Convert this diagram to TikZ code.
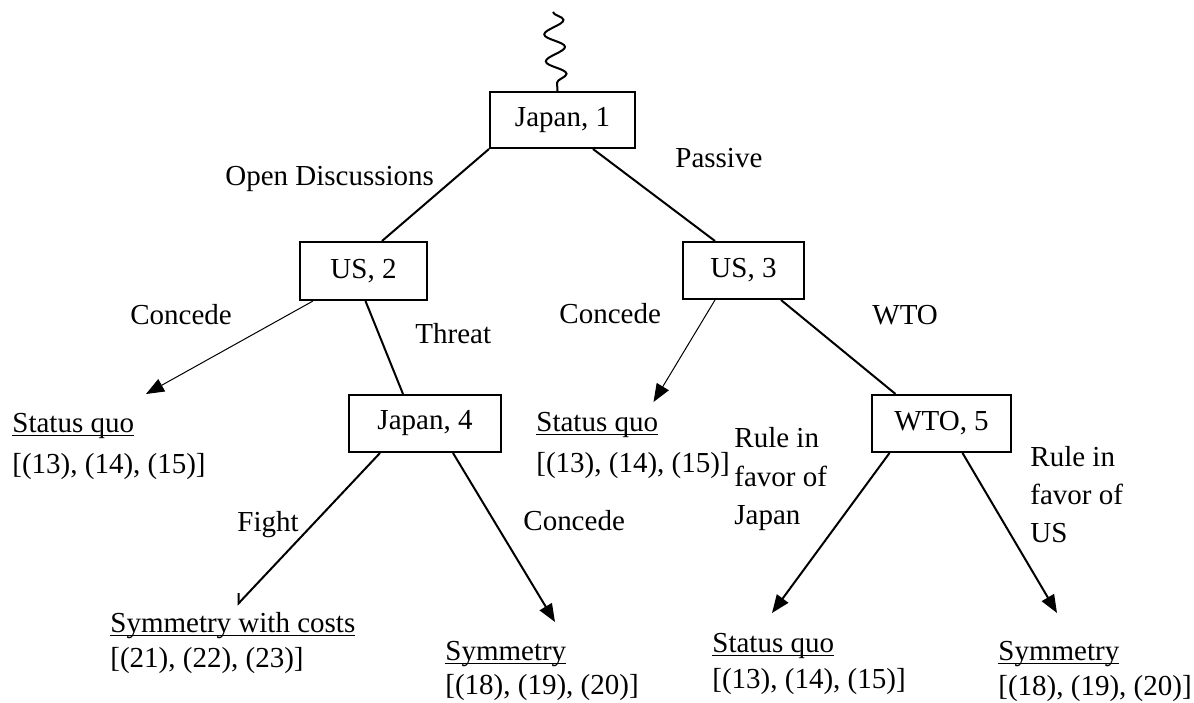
\documentclass[tikz,border=0pt]{standalone}
\usepackage{fontspec}
\setmainfont{Liberation Serif}
\usetikzlibrary{arrows.meta,decorations.pathmorphing}
\newcommand\undl[1]{\setbox0\hbox{#1}\rlap{\rule[-2.2pt]{\wd0}{0.7pt}}\box0}
\begin{document}
\begin{tikzpicture}[x=0.5pt,y=-0.5pt,
  every node/.style={font=\fontsize{14.5}{17}\selectfont, inner sep=0pt},
  player/.style={draw, line width=1pt, minimum height=28.5pt},
  lbl/.style={anchor=base west},
  branch/.style={line width=1pt},
  thinbranch/.style={line width=0.5pt},
  tipfill/.style={-{Triangle[length=9pt,width=7pt]}},
  tipbarb/.style={-{Straight Barb[right,length=3.6pt,width=7pt]}},
]
\useasboundingbox (0,0) rectangle (1194,702);

% decision nodes
\node[player, minimum width=72.5pt, minimum height=28pt] (j1) at (562.5,120) {Japan, 1};
\node[player, minimum width=63.5pt, minimum height=29pt] (us2) at (363.5,271) {US, 2};
\node[player, minimum width=60.5pt] (us3) at (743.5,270.5) {US, 3};
\node[player, minimum width=76pt] (j4) at (425,423.5) {Japan, 4};
\node[player, minimum width=69.5pt] (w5) at (941.5,423.5) {WTO, 5};

% wavy line into the root
\coordinate (wtop) at (553,12);
\draw[line width=1pt, decorate, decoration={snake, segment length=13.5pt, amplitude=5pt}]
  (wtop) -- ([xshift=-2.5pt]j1.north);

% arrow tips
\coordinate (tA) at (146,394);
\coordinate (tB) at (653.5,402);
\coordinate (tC) at (237,605);
\coordinate (tD) at (555,622);
\coordinate (tE) at (772,613);
\coordinate (tF) at (1057,613);

% branches
\draw[branch] (j1.south west) -- ([xshift=9.25pt]us2.north);
\draw[branch] ([xshift=15.25pt]j1.south) -- ([xshift=-14.25pt]us3.north);
\draw[thinbranch, tipfill] ([xshift=-25.25pt]us2.south) -- (tA);
\draw[branch] ([xshift=1pt]us2.south) -- ([xshift=-11pt]j4.north);
\draw[thinbranch, tipfill] ([xshift=-14.25pt]us3.south) -- (tB);
\draw[branch] ([xshift=18.75pt]us3.south) -- ([xshift=-23pt]w5.north);
\draw[branch, tipbarb] ([xshift=-22.5pt]j4.south) -- (tC);
\draw[branch, tipfill] ([xshift=14pt]j4.south) -- (tD);
\draw[branch, tipfill] ([xshift=-26pt]w5.south) -- (tE);
\draw[branch, tipfill] ([xshift=10.5pt]w5.south) -- (tF);

% branch labels
\node[lbl] (lOpen) at (225,185) {Open Discussions};
\node[lbl] (lPass) at (675,167) {Passive};
\node[lbl] (lCon1) at (130,324) {Concede};
\node[lbl] (lThr) at (415,343) {Threat};
\node[lbl] (lCon2) at (559,323) {Concede};
\node[lbl] (lWTO) at (872,324) {WTO};
\node[lbl] (lFight) at (237,531) {Fight};
\node[lbl] (lCon3) at (523,530) {Concede};
\node[lbl] (lRJa) at (734,447) {Rule in};
\node[lbl] (lRJb) at (734,486) {favor of};
\node[lbl] (lRJc) at (734,524) {Japan};
\node[lbl] (lRUa) at (1030,466) {Rule in};
\node[lbl] (lRUb) at (1030,504) {favor of};
\node[lbl] (lRUc) at (1030,542) {US};

% outcomes
\node[lbl] (o1a) at (12,432) {\undl{Status quo}};
\node[lbl] (o1b) at (12,473) {[(13), (14), (15)]};
\node[lbl] (o2a) at (536,431) {\undl{Status quo}};
\node[lbl] (o2b) at (536,472) {[(13), (14), (15)]};
\node[lbl] (o3a) at (110,632) {\undl{Symmetry with costs}};
\node[lbl] (o3b) at (110,667) {[(21), (22), (23)]};
\node[lbl] (o4a) at (445,660) {\undl{Symmetry}};
\node[lbl] (o4b) at (445,694) {[(18), (19), (20)]};
\node[lbl] (o5a) at (712,652) {\undl{Status quo}};
\node[lbl] (o5b) at (712,688) {[(13), (14), (15)]};
\node[lbl] (o6a) at (998,660) {\undl{Symmetry}};
\node[lbl] (o6b) at (998,695) {[(18), (19), (20)]};
\end{tikzpicture}
\end{document}
